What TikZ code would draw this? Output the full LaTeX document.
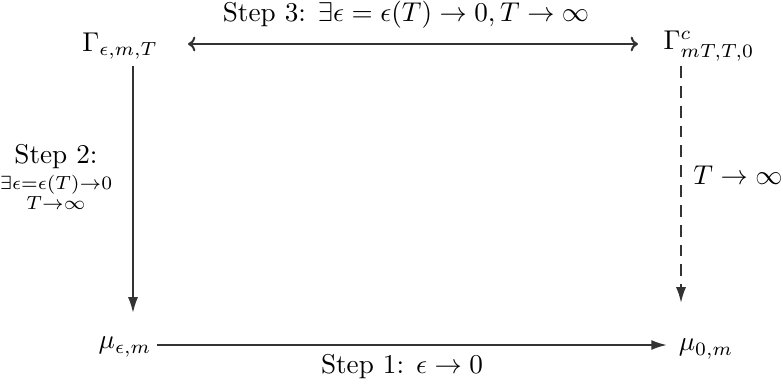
\documentclass[tikz,border=0pt]{standalone}
\usepackage{amsmath}
\usetikzlibrary{arrows.meta}
\definecolor{ink}{HTML}{333333}
\begin{document}
\begin{tikzpicture}[x=0.368pt,y=-0.368pt,
  lbl/.style={inner sep=0pt,text=black},
  conn/.style={draw=ink,line width=0.75pt},
  fhead/.style={-{Latex[length=5.8pt,width=3.7pt]}},
  dhead/.style={{To[length=2.7pt,width=5.4pt]}-{To[length=2.7pt,width=5.4pt]}}]
\useasboundingbox (0,0) rectangle (783,387);
\node[lbl] (G1) at (120,46) {$\Gamma_{\epsilon,m,T}$};
\node[lbl] (G2) at (709,46) {$\Gamma^{c}_{mT,T,0}$};
\node[lbl] (M1) at (125,347) {$\mu_{\epsilon,m}$};
\node[lbl] (M2) at (706,349) {$\mu_{0,m}$};
\coordinate (a1) at (188,44);
\coordinate (a2) at (638,44);
\coordinate (b1) at (133,66);
\coordinate (b2) at (133,313);
\coordinate (c1) at (681,66);
\coordinate (c2) at (681,303);
\coordinate (d1) at (157,345);
\coordinate (d2) at (667,345);
\draw[conn,dhead] (a1) -- (a2);
\node[lbl] (L3) at (406,15) {Step 3: $\exists\epsilon=\epsilon(T)\to0, T\to\infty$};
\draw[conn,fhead] (b1) -- (b2);
\draw[conn,fhead,dash pattern=on 4.4pt off 2.9pt] (c1) -- (c2);
\draw[conn,fhead] (d1) -- (d2);
\node[lbl] (L1) at (402,367) {Step 1: $\epsilon\to0$};
\node[lbl,align=center] (L2) at (56,177) {Step 2:\\[1pt] $\substack{\exists\epsilon=\epsilon(T)\to0\\ T\to\infty}$};
\node[lbl] (L4) at (738,175) {$T\to\infty$};
\end{tikzpicture}
\end{document}
